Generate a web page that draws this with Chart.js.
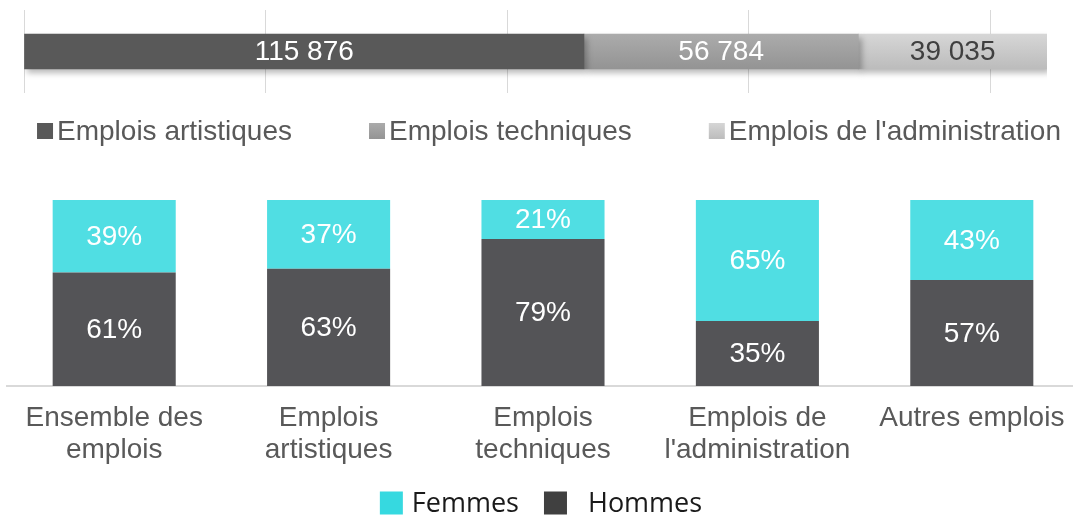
<!DOCTYPE html>
<html lang="fr">
<head>
    <meta charset="UTF-8">
    <title>Emplois - répartition</title>
    <script src="https://cdn.jsdelivr.net/npm/chart.js@4/dist/chart.umd.min.js"></script>
    <style>
        html, body { margin: 0; padding: 0; background: #fff; overflow: hidden; }
        #top { position: absolute; left: 0; top: 0; }
        #bottom { position: absolute; left: 0; top: 190px; }
    </style>
</head>
<body>

    <canvas id="top" width="1073" height="160"></canvas>
    <canvas id="bottom" width="1086" height="327"></canvas>

    <script>
        // top bar : number of jobs by type
        const jobTypes = ['Emplois artistiques', 'Emplois techniques', "Emplois de l'administration"];
        const jobCounts = [115876, 56784, 39035];
        const jobTotal = 211695;
        const gridValues = [0, 50000, 100000, 150000, 200000];

        // bottom bars : share of women / men
        const categories = [['Ensemble des', 'emplois'], ['Emplois', 'artistiques'], ['Emplois', 'techniques'], ['Emplois de', "l'administration"], ['Autres emplois']];
        const femmes = [39, 37, 21, 65, 43];
        const hommes = [61, 63, 79, 35, 57];

        const ARIAL = "'Liberation Sans', Arial, sans-serif";

        function fmt(v) {
            return String(v).replace(/\B(?=(\d{3})+(?!\d))/g, ' ');
        }

        // labels in the middle of every bar segment
        const barLabels = {
            id: 'barLabels',
            afterDraw(chart, args, opts) {
                const ctx = chart.ctx;
                const horiz = chart.options.indexAxis === 'y';
                ctx.save();
                ctx.font = opts.font;
                ctx.textAlign = 'center';
                ctx.textBaseline = 'middle';
                chart.data.datasets.forEach((ds, i) => {
                    chart.getDatasetMeta(i).data.forEach((el, j) => {
                        const p = el.getProps(['x', 'y', 'base'], true);
                        const cx = horiz ? (p.x + p.base) / 2 : p.x;
                        const cy = horiz ? p.y : (p.y + p.base) / 2;
                        ctx.fillStyle = ds.labelColor || '#fff';
                        ctx.fillText(fmt(ds.data[j]) + (ds.labelSuffix || ''), cx, cy + 1);
                    });
                });
                ctx.restore();
            }
        };

        // simple one-row legend (square + text)
        const rowLegend = {
            id: 'rowLegend',
            afterDraw(chart, args, opts) {
                const ctx = chart.ctx;
                let sets = chart.data.datasets.slice();
                if (opts.reverse) sets.reverse();
                ctx.save();
                ctx.font = opts.font;
                ctx.textBaseline = 'middle';
                const widths = sets.map(ds => opts.box + (ds.legendGap || opts.textGap) + ctx.measureText(ds.label).width);
                const total = widths.reduce((a, b) => a + b, 0) + opts.itemGap * (sets.length - 1);
                let x = opts.centerX - total / 2;
                const top = opts.y - opts.box / 2;
                sets.forEach((ds, i) => {
                    let c = ds.legendColor;
                    if (Array.isArray(c)) {
                        const g = ctx.createLinearGradient(0, top, 0, top + opts.box);
                        g.addColorStop(0, c[0]);
                        g.addColorStop(1, c[1]);
                        c = g;
                    }
                    ctx.fillStyle = c;
                    ctx.fillRect(x, top, opts.box, opts.box);
                    ctx.fillStyle = opts.textColor;
                    ctx.fillText(ds.label, x + opts.box + (ds.legendGap || opts.textGap), opts.y + 1);
                    x += widths[i] + opts.itemGap;
                });
                ctx.restore();
            }
        };

        // soft shadow under the top bar
        const barShadow = {
            id: 'barShadow',
            beforeDatasetsDraw(chart) {
                const ctx = chart.ctx;
                ctx.save();
                ctx.shadowColor = 'rgba(0,0,0,0.28)';
                ctx.shadowBlur = 6;
                ctx.shadowOffsetX = 3;
                ctx.shadowOffsetY = 4;
            },
            afterDatasetsDraw(chart) {
                chart.ctx.restore();
            }
        };

        function barGradient(top, bottom) {
            return function(context) {
                const chart = context.chart;
                if (!chart.chartArea) return bottom;
                const cy = chart.scales.y.getPixelForValue(0);
                const g = chart.ctx.createLinearGradient(0, cy - 17, 0, cy + 17);
                g.addColorStop(0, top);
                g.addColorStop(1, bottom);
                return g;
            };
        }

        const topColors = [['#595959', '#595959'], ['#ababab', '#949494'], ['#d6d6d6', '#bcbcbc']];
        const topLabelColors = ['#ffffff', '#ffffff', '#404040'];

        new Chart(document.getElementById('top').getContext('2d'), {
            type: 'bar',
            data: {
                labels: [''],
                datasets: jobTypes.map((name, i) => ({
                    label: name,
                    data: [jobCounts[i]],
                    backgroundColor: barGradient(topColors[i][0], topColors[i][1]),
                    legendColor: topColors[i],
                    labelColor: topLabelColors[i],
                    barThickness: 35,
                    borderWidth: 0
                }))
            },
            options: {
                indexAxis: 'y',
                responsive: false,
                animation: false,
                devicePixelRatio: 1,
                layout: { padding: { left: 24, right: 26, top: 10, bottom: 67 } },
                scales: {
                    x: {
                        stacked: true,
                        min: 0,
                        max: jobTotal,
                        afterBuildTicks(axis) { axis.ticks = gridValues.map(v => ({ value: v })); },
                        ticks: { display: false },
                        grid: { color: '#d9d9d9', lineWidth: 1, drawTicks: false },
                        border: { display: false },
                        afterFit(axis) { axis.height = 0; }
                    },
                    y: { stacked: true, display: false }
                },
                plugins: {
                    legend: { display: false },
                    tooltip: { enabled: false },
                    barLabels: { font: '28px ' + ARIAL },
                    rowLegend: {
                        font: '28px ' + ARIAL, textColor: '#595959',
                        box: 16, textGap: 4, itemGap: 77, centerX: 549, y: 131
                    }
                }
            },
            plugins: [barShadow, barLabels, rowLegend]
        });

        new Chart(document.getElementById('bottom').getContext('2d'), {
            type: 'bar',
            data: {
                labels: categories,
                datasets: [
                    {
                        label: 'Hommes',
                        data: hommes,
                        backgroundColor: '#545457',
                        legendColor: '#404040',
                        legendGap: 21,
                        labelSuffix: '%'
                    },
                    {
                        label: 'Femmes',
                        data: femmes,
                        backgroundColor: '#50dee3',
                        legendColor: '#36d9e0',
                        labelSuffix: '%'
                    }
                ]
            },
            options: {
                responsive: false,
                animation: false,
                devicePixelRatio: 1,
                layout: { padding: { left: 7, right: 7, top: 10, bottom: 46 } },
                datasets: { bar: { barPercentage: 0.574, categoryPercentage: 1 } },
                scales: {
                    x: {
                        stacked: true,
                        grid: { display: false, drawTicks: false },
                        border: { display: true, color: '#d9d9d9', width: 2 },
                        ticks: {
                            color: '#595959',
                            padding: 16,
                            maxRotation: 0,
                            autoSkip: false,
                            font: { family: ARIAL, size: 28, lineHeight: 1.15 }
                        },
                        afterFit(axis) { axis.height = 85; }
                    },
                    y: { stacked: true, display: false, min: 0, max: 100 }
                },
                plugins: {
                    legend: { display: false },
                    tooltip: { enabled: false },
                    barLabels: { font: '28px ' + ARIAL },
                    rowLegend: {
                        font: "27px 'Open Sans', 'Noto Sans', sans-serif", textColor: '#1a1a1a',
                        box: 23, textGap: 9, itemGap: 25, reverse: true, centerX: 541, y: 313
                    }
                }
            },
            plugins: [barLabels, rowLegend]
        });
    </script>
</body>
</html>
